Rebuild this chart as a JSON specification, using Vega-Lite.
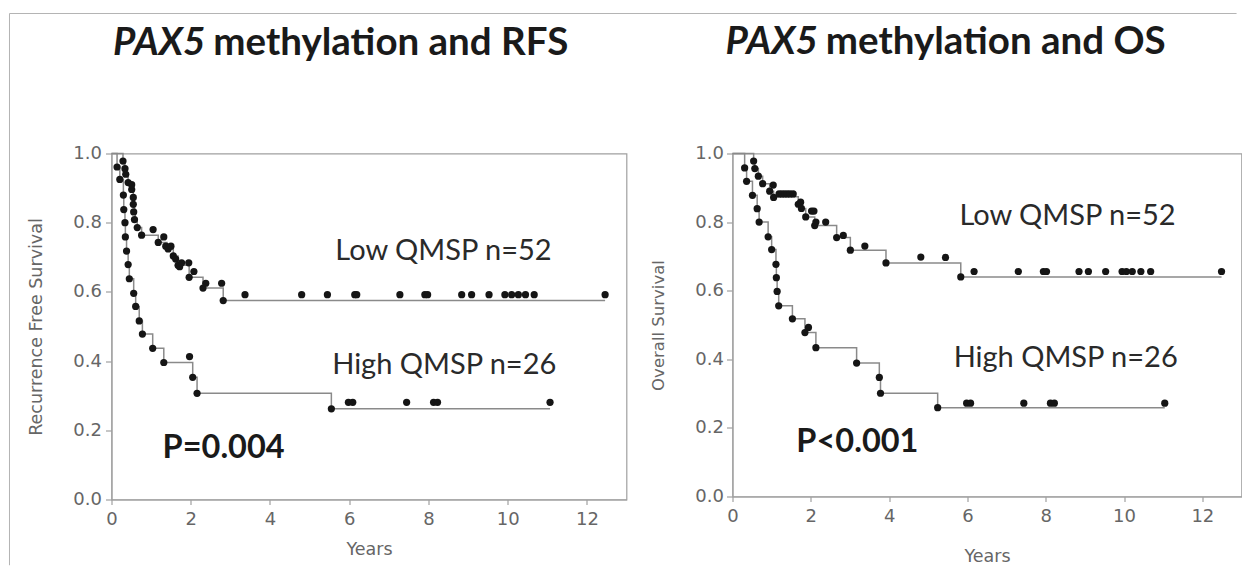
{
  "$schema": "https://vega.github.io/schema/vega-lite/v6.json",
  "padding": {"left": 7.5, "top": 11.5, "right": 0, "bottom": 0},
  "background": "white",
  "bounds": "flush",
  "spacing": 106,
  "config": {
    "view": {"stroke": "#a0a0a0", "strokeWidth": 1.2},
    "axis": {"domainColor": "#a0a0a0", "tickColor": "#a0a0a0", "labelColor": "#666666", "titleColor": "#666666", "labelFont": "DejaVu Sans", "titleFont": "DejaVu Sans", "titleFontWeight": "normal", "grid": false, "labelFlush": false, "labelOverlap": false, "labelBound": false, "domainWidth": 1.2, "tickWidth": 1.2}
  },
  "datasets": {
    "rfs_line": [
      {"t": 0, "s": 1, "g": "Low"}, {"t": 0.29, "s": 0.978, "g": "Low"}, {"t": 0.34, "s": 0.956, "g": "Low"}, {"t": 0.38, "s": 0.937, "g": "Low"}, {"t": 0.42, "s": 0.916, "g": "Low"}, {"t": 0.51, "s": 0.896, "g": "Low"}, {"t": 0.55, "s": 0.873, "g": "Low"}, {"t": 0.57, "s": 0.853, "g": "Low"}, {"t": 0.58, "s": 0.831, "g": "Low"}, {"t": 0.6, "s": 0.809, "g": "Low"}, {"t": 0.65, "s": 0.786, "g": "Low"}, {"t": 0.76, "s": 0.764, "g": "Low"}, {"t": 1.18, "s": 0.743, "g": "Low"}, {"t": 1.4, "s": 0.724, "g": "Low"}, {"t": 1.56, "s": 0.704, "g": "Low"}, {"t": 1.68, "s": 0.677, "g": "Low"}, {"t": 1.96, "s": 0.642, "g": "Low"}, {"t": 2.31, "s": 0.611, "g": "Low"}, {"t": 2.82, "s": 0.575, "g": "Low"}, {"t": 12.46, "s": 0.575, "g": "Low"},
      {"t": 0, "s": 1, "g": "High"}, {"t": 0.14, "s": 0.961, "g": "High"}, {"t": 0.21, "s": 0.925, "g": "High"}, {"t": 0.3, "s": 0.88, "g": "High"}, {"t": 0.31, "s": 0.838, "g": "High"}, {"t": 0.34, "s": 0.8, "g": "High"}, {"t": 0.35, "s": 0.759, "g": "High"}, {"t": 0.38, "s": 0.718, "g": "High"}, {"t": 0.42, "s": 0.679, "g": "High"}, {"t": 0.45, "s": 0.638, "g": "High"}, {"t": 0.56, "s": 0.596, "g": "High"}, {"t": 0.61, "s": 0.558, "g": "High"}, {"t": 0.7, "s": 0.516, "g": "High"}, {"t": 0.78, "s": 0.478, "g": "High"}, {"t": 1.04, "s": 0.437, "g": "High"}, {"t": 1.32, "s": 0.396, "g": "High"}, {"t": 2.05, "s": 0.353, "g": "High"}, {"t": 2.16, "s": 0.307, "g": "High"}, {"t": 5.55, "s": 0.262, "g": "High"}, {"t": 11.07, "s": 0.262, "g": "High"}
    ],
    "rfs_dots": [
      {"t": 0.29, "s": 0.978}, {"t": 0.34, "s": 0.956}, {"t": 0.36, "s": 0.94}, {"t": 0.42, "s": 0.916}, {"t": 0.51, "s": 0.896}, {"t": 0.55, "s": 0.873}, {"t": 0.55, "s": 0.853}, {"t": 0.56, "s": 0.831}, {"t": 0.58, "s": 0.809}, {"t": 0.65, "s": 0.786}, {"t": 0.76, "s": 0.764}, {"t": 1.18, "s": 0.743}, {"t": 1.37, "s": 0.732}, {"t": 1.43, "s": 0.724}, {"t": 1.56, "s": 0.704}, {"t": 1.62, "s": 0.695}, {"t": 1.68, "s": 0.677}, {"t": 1.72, "s": 0.673}, {"t": 1.96, "s": 0.642}, {"t": 2.31, "s": 0.611}, {"t": 2.82, "s": 0.575},
      {"t": 0.51, "s": 0.91}, {"t": 1.05, "s": 0.78}, {"t": 1.32, "s": 0.759}, {"t": 1.5, "s": 0.732}, {"t": 1.77, "s": 0.684}, {"t": 1.95, "s": 0.684}, {"t": 2.08, "s": 0.659}, {"t": 2.38, "s": 0.625}, {"t": 2.78, "s": 0.625}, {"t": 3.37, "s": 0.592},
      {"t": 4.8, "s": 0.592}, {"t": 5.45, "s": 0.592}, {"t": 6.14, "s": 0.592}, {"t": 6.19, "s": 0.592}, {"t": 7.28, "s": 0.592}, {"t": 7.91, "s": 0.592}, {"t": 7.98, "s": 0.592}, {"t": 8.84, "s": 0.592}, {"t": 9.09, "s": 0.592}, {"t": 9.53, "s": 0.592}, {"t": 9.93, "s": 0.592}, {"t": 10.1, "s": 0.592}, {"t": 10.27, "s": 0.592}, {"t": 10.45, "s": 0.592}, {"t": 10.67, "s": 0.592}, {"t": 12.46, "s": 0.592},
      {"t": 0.14, "s": 0.961}, {"t": 0.21, "s": 0.925}, {"t": 0.3, "s": 0.88}, {"t": 0.31, "s": 0.838}, {"t": 0.34, "s": 0.8}, {"t": 0.35, "s": 0.759}, {"t": 0.38, "s": 0.718}, {"t": 0.42, "s": 0.679}, {"t": 0.45, "s": 0.638}, {"t": 0.56, "s": 0.596}, {"t": 0.61, "s": 0.558}, {"t": 0.7, "s": 0.516}, {"t": 0.78, "s": 0.478}, {"t": 1.04, "s": 0.437}, {"t": 1.32, "s": 0.396}, {"t": 1.97, "s": 0.413}, {"t": 2.05, "s": 0.353}, {"t": 2.16, "s": 0.307}, {"t": 5.55, "s": 0.262},
      {"t": 5.98, "s": 0.281}, {"t": 6.09, "s": 0.281}, {"t": 7.45, "s": 0.281}, {"t": 8.13, "s": 0.281}, {"t": 8.23, "s": 0.281}, {"t": 11.07, "s": 0.281}
    ],
    "os_line": [
      {"t": 0, "s": 1, "g": "Low"}, {"t": 0.54, "s": 0.978, "g": "Low"}, {"t": 0.57, "s": 0.956, "g": "Low"}, {"t": 0.66, "s": 0.934, "g": "Low"}, {"t": 0.77, "s": 0.912, "g": "Low"}, {"t": 0.95, "s": 0.89, "g": "Low"}, {"t": 1.05, "s": 0.874, "g": "Low"}, {"t": 1.68, "s": 0.852, "g": "Low"}, {"t": 1.76, "s": 0.84, "g": "Low"}, {"t": 1.87, "s": 0.815, "g": "Low"}, {"t": 2.1, "s": 0.79, "g": "Low"}, {"t": 2.66, "s": 0.755, "g": "Low"}, {"t": 3.01, "s": 0.718, "g": "Low"}, {"t": 3.92, "s": 0.681, "g": "Low"}, {"t": 5.83, "s": 0.64, "g": "Low"}, {"t": 12.49, "s": 0.64, "g": "Low"},
      {"t": 0, "s": 1, "g": "High"}, {"t": 0.31, "s": 0.958, "g": "High"}, {"t": 0.36, "s": 0.919, "g": "High"}, {"t": 0.51, "s": 0.878, "g": "High"}, {"t": 0.63, "s": 0.839, "g": "High"}, {"t": 0.68, "s": 0.8, "g": "High"}, {"t": 0.91, "s": 0.757, "g": "High"}, {"t": 1.0, "s": 0.72, "g": "High"}, {"t": 1.11, "s": 0.677, "g": "High"}, {"t": 1.12, "s": 0.638, "g": "High"}, {"t": 1.14, "s": 0.598, "g": "High"}, {"t": 1.18, "s": 0.556, "g": "High"}, {"t": 1.53, "s": 0.518, "g": "High"}, {"t": 1.85, "s": 0.478, "g": "High"}, {"t": 2.13, "s": 0.434, "g": "High"}, {"t": 3.17, "s": 0.389, "g": "High"}, {"t": 3.75, "s": 0.347, "g": "High"}, {"t": 3.78, "s": 0.301, "g": "High"}, {"t": 5.24, "s": 0.259, "g": "High"}, {"t": 11.04, "s": 0.259, "g": "High"}
    ],
    "os_dots": [
      {"t": 0.54, "s": 0.978}, {"t": 0.57, "s": 0.956}, {"t": 0.66, "s": 0.934}, {"t": 0.77, "s": 0.912}, {"t": 0.95, "s": 0.89}, {"t": 1.05, "s": 0.872}, {"t": 1.68, "s": 0.852}, {"t": 1.74, "s": 0.858}, {"t": 1.76, "s": 0.84}, {"t": 1.87, "s": 0.815}, {"t": 2.1, "s": 0.79}, {"t": 2.13, "s": 0.8}, {"t": 2.66, "s": 0.755}, {"t": 3.01, "s": 0.718}, {"t": 3.92, "s": 0.681}, {"t": 5.83, "s": 0.64},
      {"t": 1.04, "s": 0.908}, {"t": 1.19, "s": 0.882}, {"t": 1.26, "s": 0.882}, {"t": 1.33, "s": 0.882}, {"t": 1.4, "s": 0.882}, {"t": 1.47, "s": 0.882}, {"t": 1.55, "s": 0.882}, {"t": 2.02, "s": 0.832}, {"t": 2.08, "s": 0.832}, {"t": 2.38, "s": 0.8}, {"t": 2.83, "s": 0.761}, {"t": 3.38, "s": 0.73}, {"t": 4.81, "s": 0.698}, {"t": 5.44, "s": 0.697},
      {"t": 6.17, "s": 0.656}, {"t": 7.3, "s": 0.656}, {"t": 7.94, "s": 0.656}, {"t": 8.02, "s": 0.656}, {"t": 8.85, "s": 0.656}, {"t": 9.09, "s": 0.656}, {"t": 9.53, "s": 0.656}, {"t": 9.95, "s": 0.656}, {"t": 10.06, "s": 0.656}, {"t": 10.21, "s": 0.656}, {"t": 10.43, "s": 0.656}, {"t": 10.68, "s": 0.656}, {"t": 12.49, "s": 0.656},
      {"t": 0.31, "s": 0.958}, {"t": 0.36, "s": 0.919}, {"t": 0.51, "s": 0.878}, {"t": 0.63, "s": 0.839}, {"t": 0.68, "s": 0.8}, {"t": 0.91, "s": 0.757}, {"t": 1.0, "s": 0.72}, {"t": 1.11, "s": 0.677}, {"t": 1.12, "s": 0.638}, {"t": 1.14, "s": 0.598}, {"t": 1.18, "s": 0.556}, {"t": 1.53, "s": 0.518}, {"t": 1.85, "s": 0.478}, {"t": 1.94, "s": 0.493}, {"t": 2.13, "s": 0.434}, {"t": 3.17, "s": 0.389}, {"t": 3.75, "s": 0.347}, {"t": 3.78, "s": 0.301}, {"t": 5.24, "s": 0.259},
      {"t": 5.98, "s": 0.272}, {"t": 6.08, "s": 0.272}, {"t": 7.44, "s": 0.272}, {"t": 8.12, "s": 0.272}, {"t": 8.22, "s": 0.272}, {"t": 11.04, "s": 0.272}
    ]
  },
  "hconcat": [
    {
      "width": 515,
      "height": 346,
      "layer": [
        {
          "data": {"name": "rfs_line"},
          "mark": {"type": "line", "interpolate": "step-after", "color": "#8a8a8a", "strokeWidth": 1.5},
          "encoding": {
            "x": {"field": "t", "type": "quantitative", "scale": {"domain": [0, 13], "nice": false, "zero": false},
              "axis": {"title": "Years", "values": [0, 1, 2, 3, 4, 5, 6, 7, 8, 9, 10, 11, 12, 13], "labelExpr": "datum.value % 2 == 0 && datum.value <= 12 ? datum.label : ''", "tickSize": {"condition": {"test": "datum.value % 2 == 1", "value": 3}, "value": 5}, "labelPadding": 6, "labelFontSize": 18, "titleFontSize": 17.5, "titlePadding": 12}},
            "y": {"field": "s", "type": "quantitative", "scale": {"domain": [0, 1], "nice": false},
              "axis": {"title": "Recurrence Free Survival", "values": [0, 0.1, 0.2, 0.3, 0.4, 0.5, 0.6, 0.7, 0.8, 0.9, 1], "labelExpr": "round(datum.value*10) % 2 == 0 ? format(datum.value, '.1f') : ''", "tickSize": {"condition": {"test": "round(datum.value*10) % 2 == 1", "value": 3.5}, "value": 6}, "labelPadding": 4, "labelFontSize": 18, "titleFontSize": 17.5, "titlePadding": 27}},
            "detail": {"field": "g"}
          }
        },
        {
          "data": {"name": "rfs_dots"},
          "mark": {"type": "circle", "size": 52, "color": "#151515", "opacity": 1},
          "encoding": {"x": {"field": "t", "type": "quantitative"}, "y": {"field": "s", "type": "quantitative"}}
        },
        {
          "data": {"values": [{}]},
          "mark": {"type": "text", "text": "Low QMSP n=52", "font": "Lato", "fontSize": 29, "color": "#2a2a2a", "align": "center", "baseline": "alphabetic"},
          "encoding": {"x": {"datum": 8.38}, "y": {"datum": 0.691}}
        },
        {
          "data": {"values": [{}]},
          "mark": {"type": "text", "text": "High QMSP n=26", "font": "Lato", "fontSize": 29, "color": "#2a2a2a", "align": "center", "baseline": "alphabetic"},
          "encoding": {"x": {"datum": 8.4}, "y": {"datum": 0.364}}
        },
        {
          "data": {"values": [{}]},
          "mark": {"type": "text", "text": "P=0.004", "font": "Lato", "fontSize": 32.5, "fontWeight": "bold", "color": "#1a1a1a", "align": "center", "baseline": "alphabetic"},
          "encoding": {"x": {"datum": 2.83}, "y": {"datum": 0.1185}}
        },
        {
          "data": {"values": [{}]},
          "mark": {"type": "text", "text": "PAX5", "font": "Lato", "fontSize": 38.5, "fontWeight": "bold", "fontStyle": "italic", "color": "#1a1a1a", "align": "right", "baseline": "alphabetic", "dx": -4},
          "encoding": {"x": {"datum": 2.47}, "y": {"datum": 1.286}}
        },
        {
          "data": {"values": [{}]},
          "mark": {"type": "text", "text": "methylation and RFS", "font": "Lato", "fontSize": 38.5, "fontWeight": "bold", "color": "#1a1a1a", "align": "left", "baseline": "alphabetic", "dx": 4},
          "encoding": {"x": {"datum": 2.47}, "y": {"datum": 1.286}}
        },
        {
          "data": {"values": [{}]},
          "mark": {"type": "rule", "color": "#b4b4b4", "strokeWidth": 1},
          "encoding": {"x": {"datum": -2.575}, "y": {"datum": -0.19}, "y2": {"datum": 1.4046}}
        },
        {
          "data": {"values": [{}]},
          "mark": {"type": "rule", "color": "#b4b4b4", "strokeWidth": 1},
          "encoding": {"y": {"datum": 1.4046}, "x": {"datum": -2.575}, "x2": {"datum": 28.4}}
        }
      ]
    },
    {
      "width": 509,
      "height": 343,
      "layer": [
        {
          "data": {"name": "os_line"},
          "mark": {"type": "line", "interpolate": "step-after", "color": "#8a8a8a", "strokeWidth": 1.5},
          "encoding": {
            "x": {"field": "t", "type": "quantitative", "scale": {"domain": [0, 13], "nice": false, "zero": false},
              "axis": {"title": "Years", "values": [0, 1, 2, 3, 4, 5, 6, 7, 8, 9, 10, 11, 12, 13], "labelExpr": "datum.value % 2 == 0 && datum.value <= 12 ? datum.label : ''", "tickSize": {"condition": {"test": "datum.value % 2 == 1", "value": 3}, "value": 5}, "labelPadding": 6, "labelFontSize": 18, "titleFontSize": 17.5, "titlePadding": 22}},
            "y": {"field": "s", "type": "quantitative", "scale": {"domain": [0, 1], "nice": false},
              "axis": {"title": "Overall Survival", "values": [0, 0.1, 0.2, 0.3, 0.4, 0.5, 0.6, 0.7, 0.8, 0.9, 1], "labelExpr": "round(datum.value*10) % 2 == 0 ? format(datum.value, '.1f') : ''", "tickSize": {"condition": {"test": "round(datum.value*10) % 2 == 1", "value": 3.5}, "value": 6}, "labelPadding": 3, "labelFontSize": 18, "titleFontSize": 16.5, "titlePadding": 28}},
            "detail": {"field": "g"}
          }
        },
        {
          "data": {"name": "os_dots"},
          "mark": {"type": "circle", "size": 52, "color": "#151515", "opacity": 1},
          "encoding": {"x": {"field": "t", "type": "quantitative"}, "y": {"field": "s", "type": "quantitative"}}
        },
        {
          "data": {"values": [{}]},
          "mark": {"type": "text", "text": "Low QMSP n=52", "font": "Lato", "fontSize": 29, "color": "#2a2a2a", "align": "center", "baseline": "alphabetic"},
          "encoding": {"x": {"datum": 8.556}, "y": {"datum": 0.793}}
        },
        {
          "data": {"values": [{}]},
          "mark": {"type": "text", "text": "High QMSP n=26", "font": "Lato", "fontSize": 29, "color": "#2a2a2a", "align": "center", "baseline": "alphabetic"},
          "encoding": {"x": {"datum": 8.51}, "y": {"datum": 0.379}}
        },
        {
          "data": {"values": [{}]},
          "mark": {"type": "text", "text": "P<0.001", "font": "Lato", "fontSize": 32.5, "fontWeight": "bold", "color": "#1a1a1a", "align": "center", "baseline": "alphabetic"},
          "encoding": {"x": {"datum": 3.19}, "y": {"datum": 0.131}}
        },
        {
          "data": {"values": [{}]},
          "mark": {"type": "text", "text": "PAX5", "font": "Lato", "fontSize": 38.5, "fontWeight": "bold", "fontStyle": "italic", "color": "#1a1a1a", "align": "right", "baseline": "alphabetic", "dx": -4},
          "encoding": {"x": {"datum": 2.28}, "y": {"datum": 1.289}}
        },
        {
          "data": {"values": [{}]},
          "mark": {"type": "text", "text": "methylation and OS", "font": "Lato", "fontSize": 38.5, "fontWeight": "bold", "color": "#1a1a1a", "align": "left", "baseline": "alphabetic", "dx": 4},
          "encoding": {"x": {"datum": 2.28}, "y": {"datum": 1.289}}
        }
      ]
    }
  ]
}
